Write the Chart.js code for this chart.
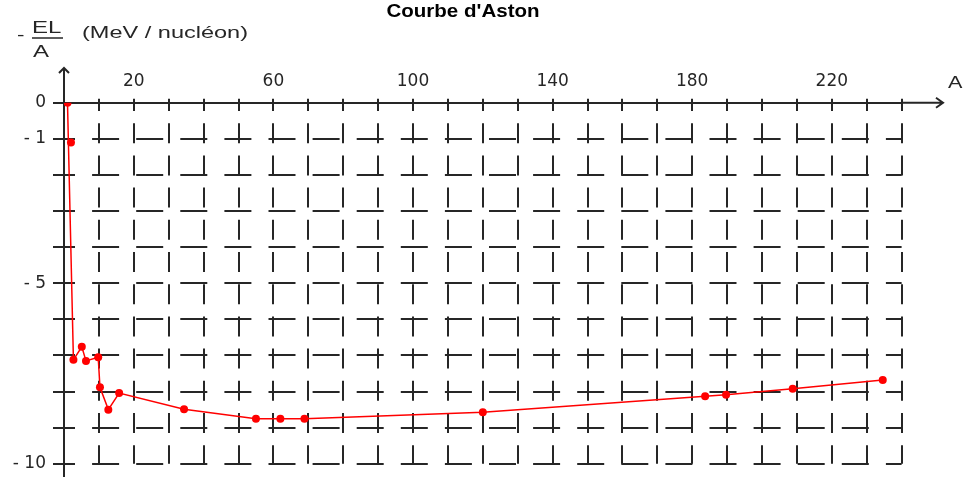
<!DOCTYPE html>
<html>
<head>
<meta charset="utf-8">
<script src="https://cdn.jsdelivr.net/npm/chart.js@4/dist/chart.umd.min.js"></script>
<style>body{margin:0;background:#fff}canvas{display:block}</style>
</head>
<body>
<canvas id="aston" width="963" height="481"></canvas>
<script>
// nombre de masse A et -El/A (MeV / nucléon)
const massNumbers = [1, 2, 2.7, 5.1, 6.3, 9.8, 10.3, 12.7, 15.8, 34.4, 55, 62, 68.9, 120, 183.7, 189.7, 208.8, 234.6];
const bindingPerNucleon = [0, -1.1, -7.12, -6.76, -7.15, -7.05, -7.88, -8.5, -8.04, -8.49, -8.75, -8.75, -8.75, -8.57, -8.13, -8.09, -7.92, -7.68];
// le deutérium est placé mais la courbe ne passe pas par lui
const offCurve = [1];
const xTickLabels = [20, 60, 100, 140, 180, 220];
const yTickLabels = [0, -1, -5, -10];
const title = "Courbe d'Aston";

const ink = '#262626';
const red = '#ff0000';

const points = massNumbers.map((a, i) => ({ x: a, y: bindingPerNucleon[i] }));
const curve = points.filter((p, i) => !offCurve.includes(i));

function stretchText(ctx, txt, x, y, font, sx) {
    ctx.save();
    ctx.font = font;
    ctx.translate(x, y);
    ctx.scale(sx, 1);
    ctx.fillText(txt, 0, 0);
    ctx.restore();
}

// fleches des axes, titre et libelles
const axisDecor = {
    id: 'axisDecor',
    afterDraw(chart) {
        const ctx = chart.ctx, a = chart.chartArea;
        const x0 = chart.scales.x.getPixelForValue(0);
        const y0 = chart.scales.y.getPixelForValue(0);
        ctx.save();
        ctx.strokeStyle = ink;
        ctx.lineWidth = 2;
        ctx.beginPath();
        ctx.moveTo(x0, a.top); ctx.lineTo(x0, 68);
        ctx.moveTo(x0, a.bottom); ctx.lineTo(x0, 477);
        ctx.moveTo(x0 - 5, 73); ctx.lineTo(x0, 68); ctx.lineTo(x0 + 5, 73);
        ctx.moveTo(a.right, y0); ctx.lineTo(943, y0);
        ctx.moveTo(936, y0 - 5); ctx.lineTo(943, y0); ctx.lineTo(936, y0 + 5);
        ctx.stroke();
        // trait de fraction
        ctx.lineWidth = 1.5;
        ctx.beginPath();
        ctx.moveTo(32, 38); ctx.lineTo(63, 38);
        ctx.stroke();

        ctx.fillStyle = '#000';
        ctx.textBaseline = 'alphabetic';
        ctx.textAlign = 'left';
        const tf = 'bold 19px "Liberation Sans", Arial';
        ctx.font = tf;
        const tw = ctx.measureText(title).width * 1.08;
        stretchText(ctx, title, 463 - tw / 2, 17, tf, 1.08);

        ctx.fillStyle = ink;
        const lf = '16px "Liberation Sans", Arial';
        stretchText(ctx, '-', 17, 40, lf, 1.4);
        stretchText(ctx, 'EL', 32, 33, lf, 1.5);
        stretchText(ctx, 'A', 33, 57, lf, 1.5);
        stretchText(ctx, '(MeV / nucléon)', 82, 38, lf, 1.47);
        stretchText(ctx, 'A', 948, 88, lf, 1.35);
        ctx.restore();
    }
};

const tickFont = { family: 'DejaVu Sans', size: 17 };

new Chart(document.getElementById('aston'), {
    type: 'scatter',
    data: {
        datasets: [{
            data: curve,
            showLine: true,
            borderColor: red,
            borderWidth: 1.5,
            pointRadius: 0,
            tension: 0,
            fill: false
        }, {
            data: points,
            showLine: false,
            backgroundColor: red,
            borderColor: red,
            pointRadius: 4,
            pointBorderWidth: 0
        }]
    },
    options: {
        responsive: false,
        animation: false,
        devicePixelRatio: 1,
        layout: { padding: { left: 0, top: 0, right: 61.4, bottom: 15 } },
        plugins: {
            legend: { display: false },
            tooltip: { enabled: false },
            title: { display: false }
        },
        scales: {
            x: {
                type: 'linear',
                position: 'top',
                min: 0,
                max: 240,
                afterFit: s => { s.height = 102.7; },
                ticks: {
                    stepSize: 10,
                    autoSkip: false,
                    maxRotation: 0,
                    padding: 7,
                    color: ink,
                    font: tickFont,
                    callback: v => xTickLabels.includes(v) ? String(v) : ''
                },
                grid: { color: ink, lineWidth: 2, tickLength: 4, tickColor: ink, tickWidth: 2 },
                border: { display: true, color: ink, width: 2, dash: [20, 12.2], dashOffset: 13 }
            },
            y: {
                min: -10,
                max: 0,
                afterFit: s => { s.width = 64; },
                ticks: {
                    stepSize: 1,
                    padding: 7,
                    color: ink,
                    font: tickFont,
                    callback: v => yTickLabels.includes(v) ? (v === 0 ? '0' : '- ' + (-v)) : ''
                },
                grid: { color: ink, lineWidth: 2, tickLength: 11, tickColor: ink, tickWidth: 2 },
                border: { display: true, color: ink, width: 2, dash: [27, 17.1], dashOffset: 17 }
            }
        }
    },
    plugins: [axisDecor]
});
</script>
</body>
</html>
